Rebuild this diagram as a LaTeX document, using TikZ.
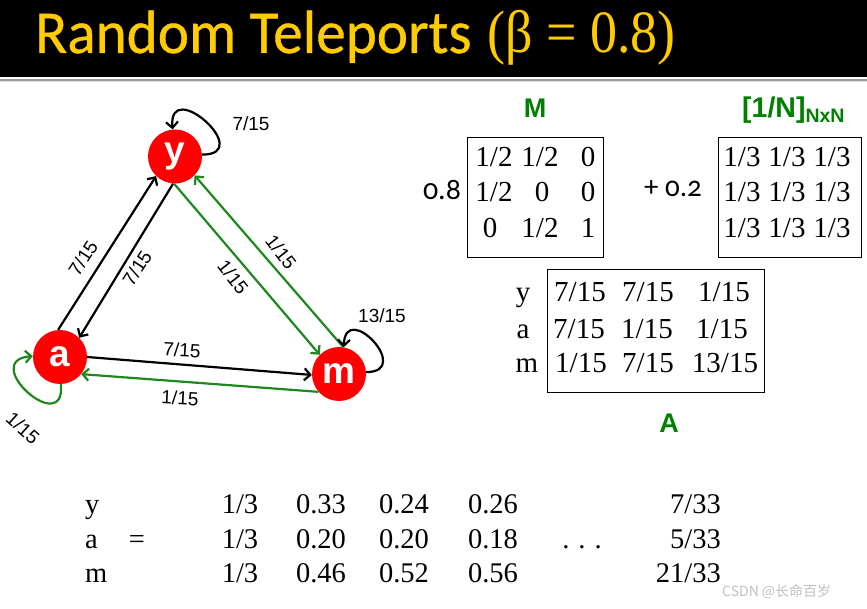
\documentclass[tikz,border=0pt]{standalone}
\usepackage{fontspec}
\setmainfont{Liberation Serif}
\setsansfont{Liberation Sans}
\newfontfamily\titlefont[FakeStretch=0.97,FakeBold=0.6]{Carlito}
\newfontfamily\titleserif[FakeStretch=0.9]{Liberation Serif}
\newfontfamily\osfont[Numbers=OldStyle]{Carlito}
\newfontfamily\cjk{Noto Sans CJK SC}
\usetikzlibrary{arrows.meta}
\definecolor{ttl}{RGB}{255,204,0}
\definecolor{egreen}{RGB}{30,135,30}
\definecolor{lgreen}{RGB}{0,128,0}
\begin{document}
\begin{tikzpicture}[x=1pt,y=-1pt,
  vert/.style={circle,fill=red,minimum size=54pt,inner sep=0pt,text=white,
    font=\sffamily\bfseries\fontsize{37}{37}\selectfont},
  blk/.style={draw=black,line width=2.2pt,-{Straight Barb[length=6pt,width=12pt]}},
  grn/.style={draw=egreen,line width=2.2pt,-{Straight Barb[length=6pt,width=12pt]}},
  lbl/.style={inner sep=0pt,font=\sffamily\fontsize{19}{19}\selectfont},
  ent/.style={anchor=base,inner sep=0pt,font=\fontsize{29}{29}\selectfont},
  tbl/.style={anchor=base,inner sep=0pt,font=\fontsize{28.5}{28.5}\selectfont},
  glab/.style={inner sep=0pt,text=lgreen,font=\sffamily\bfseries\fontsize{27}{27}\selectfont},
  mbox/.style={draw=black,line width=0.8pt,inner sep=0pt}]
\useasboundingbox (0,0) rectangle (867,609);
% title bar
\fill[black] (0,0) rectangle (867,77);
\draw[black!40,line width=1.5pt] (0,80) -- (867,80);
\draw[black!12,line width=1pt] (0,82) -- (867,82);
\node[anchor=base west,inner sep=0pt,text=ttl,font=\titlefont\fontsize{61}{61}\selectfont] (t1) at (35,53) {Random Teleports};
\node[anchor=base west,inner sep=0pt,text=ttl,font=\titleserif\fontsize{60}{60}\selectfont] (t2) at (487,53) {(β = 0.8)};

% graph
\node[vert] (y) at (175,156.5) {y};
\node[vert] (a) at (60,357) {a};
\node[vert] (m) at (339,374) {m};

\draw[blk] (a.94) -- (y.-134);
\draw[blk] (y.-94) -- (a.45);
\draw[grn] (y.-92) -- (m.135);
\draw[grn] (m.81) -- (y.-44);
\draw[blk] (a.0) -- (m.182);
\draw[grn] (m.221) -- (a.-39);

\draw[blk] (y.4) to[out=0,in=95,distance=54pt] (y.95);
\draw[blk] (m.4) to[out=0,in=88,distance=48pt] (m.80);
\draw[grn] (a.-88) to[out=-85,in=185,distance=55pt] (a.178);

\node[lbl,rotate=57] (l1) at (83,258) {7/15};
\node[lbl,rotate=57] (l2) at (137,268) {7/15};
\node[lbl,rotate=-52] (l3) at (233,277) {1/15};
\node[lbl,rotate=-52] (l4) at (281,252) {1/15};
\node[lbl,rotate=-3] (l5) at (182,350) {7/15};
\node[lbl,rotate=-3] (l6) at (180,398) {1/15};
\node[lbl] (l7) at (251,124) {7/15};
\node[lbl] (l8) at (382,316) {13/15};
\node[lbl,rotate=-42] (l9) at (23,428) {1/15};

% matrix M
\node[glab] (Mlab) at (535,108) {M};
\node[inner sep=0pt,anchor=base,font=\osfont\fontsize{30}{30}\selectfont] (c1) at (442,200) {0.8};
\node[mbox,minimum width=136pt,minimum height=120pt] (Mbox) at (535,197) {};
\node[ent] at (494,167) {1/2};
\node[ent] at (540,167) {1/2};
\node[ent] at (588,167) {0};
\node[ent] at (494,202) {1/2};
\node[ent] at (542,202) {0};
\node[ent] at (588,202) {0};
\node[ent] at (490,238) {0};
\node[ent] at (540,238) {1/2};
\node[ent] at (588,238) {1};

% matrix 1/N
\node[inner sep=0pt,anchor=base,font=\osfont\fontsize{29}{29}\selectfont] (c2) at (673,197) {+ 0.2};
\node[glab,anchor=base west,font=\sffamily\bfseries\fontsize{28.5}{28.5}\selectfont] (Nlab) at (742,118) {[1/N]\raisebox{-5pt}{\fontsize{19.5}{19.5}\selectfont NxN}};
\node[mbox,minimum width=143pt,minimum height=120pt] (Nbox) at (789.5,197) {};
\foreach \yy in {167,202,238}{
  \node[ent] at (742,\yy) {1/3};
  \node[ent] at (787,\yy) {1/3};
  \node[ent] at (832,\yy) {1/3};
}

% matrix A
\node[mbox,minimum width=217pt,minimum height=123pt] (Abox) at (655.5,330.5) {};
\node[ent] at (523,302) {y};
\node[ent] at (523,338) {a};
\node[ent] at (527,373) {m};
\node[ent] at (580,302) {7/15};
\node[ent] at (648,302) {7/15};
\node[ent] at (724,302) {1/15};
\node[ent] at (579,338) {7/15};
\node[ent] at (647,338) {1/15};
\node[ent] at (722,338) {1/15};
\node[ent] at (581,373) {1/15};
\node[ent] at (648,373) {7/15};
\node[ent] at (725,373) {13/15};
\node[glab] (Alab) at (669,423) {A};

% bottom table
\node[tbl,anchor=base west] at (85,513) {y};
\node[tbl,anchor=base west] at (85,548) {a};
\node[tbl,anchor=base west] at (85,582) {m};
\node[tbl] at (137,548) {=};
\foreach \yy/\p/\q/\r/\s in {513/0.33/0.24/0.26/{7/33}, 548/0.20/0.20/0.18/{5/33}, 582/0.46/0.52/0.56/{21/33}}{
  \node[tbl] at (240,\yy) {1/3};
  \node[tbl] at (321,\yy) {\p};
  \node[tbl] at (404,\yy) {\q};
  \node[tbl] at (493,\yy) {\r};
  \node[tbl,anchor=base east] at (721,\yy) {\s};
}
\node[tbl] at (582,548) {.\hspace{9pt}.\hspace{9pt}.};

% watermark
\node[anchor=base west,inner sep=0pt,text=black!25,font=\cjk\fontsize{14}{14}\selectfont] (wm) at (722,596) {CSDN @长命百岁};
\end{tikzpicture}
\end{document}
